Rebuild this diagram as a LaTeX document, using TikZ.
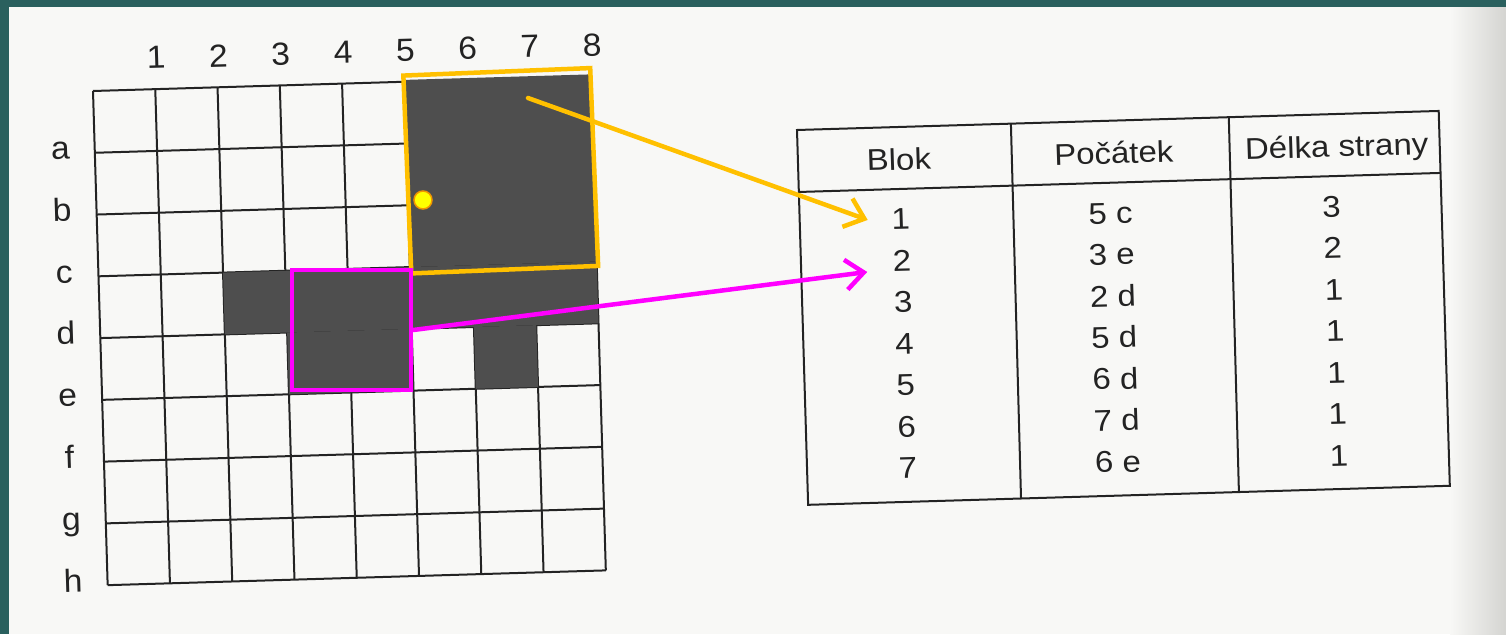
\documentclass[tikz,border=0pt]{standalone}
\usepackage{fontspec}
\setmainfont{Liberation Sans}
\usetikzlibrary{arrows.meta}
\definecolor{teal1}{RGB}{42,96,94}
\definecolor{teal2}{RGB}{66,126,112}
\definecolor{paper}{RGB}{248,248,246}
\definecolor{shade}{RGB}{212,212,209}
\definecolor{ink}{RGB}{35,35,35}
\definecolor{blockgray}{RGB}{78,78,78}
\definecolor{gold}{RGB}{255,192,0}
\definecolor{mag}{RGB}{255,0,255}
\definecolor{dotfill}{RGB}{255,255,0}
\definecolor{dotedge}{RGB}{240,150,0}
\begin{document}
\begin{tikzpicture}[x=1pt,y=-1pt,
  gridline/.style={ink, line width=2pt},
  darkblock/.style={fill=blockgray},
  tableline/.style={ink, line width=2pt},
  lbl/.style={font=\fontsize{32}{36}\selectfont, text=ink, inner sep=0pt, anchor=base, xscale=1.05, rotate=1.7},
  cell/.style={font=\fontsize{30}{34}\selectfont, text=ink, inner sep=0pt, anchor=base, xscale=1.1, rotate=1.7},
  conn/.style={line width=4.5pt, line cap=round, -{Straight Barb[length=18pt,width=30pt]}},
  overlay box/.style={line width=4.5pt, inner sep=0pt, fill=none}]
\useasboundingbox (0,0) rectangle (1506,634);
% page
\fill[paper] (0,0) rectangle (1506,634);
\shade[left color=paper, right color=shade] (1450,0) rectangle (1506,634);
\fill[teal1] (0,0) rectangle (9,634);
\shade[left color=teal1, middle color=teal2, right color=teal1] (0,0) rectangle (1506,7);
% grid
\begin{scope}[shift={(93,91)}, rotate=1.7, x=62.3pt, y=-61.8pt]
  \foreach \i in {0,...,8} {
    \draw[gridline] (\i,0) -- (\i,8);
    \draw[gridline] (0,\i) -- (8,\i);
  }
  \fill[darkblock] (5,-0.03) rectangle (8,3);
  \fill[darkblock] (2,3) rectangle (8,4);
  \fill[darkblock] (3,4) rectangle (5,5);
  \fill[darkblock] (6,4) rectangle (7,5);
  \foreach \k in {1,...,8}
    \node[lbl] (col\k) at (\k+0.03,-0.33) {\k};
  \foreach \r [count=\k] in {a,b,c,d,e,f,g,h}
    \node[lbl] (row\r) at (-0.55,\k+0.09) {\r};
\end{scope}
% table
\begin{scope}[shift={(797,130)}, rotate=1.7]
  \draw[tableline] (0,0) rectangle (642,375);
  \draw[tableline] (0,62) -- (642,62);
  \draw[tableline] (214,0) -- (213,375);
  \draw[tableline] (432,0) -- (431,375);
  \node[cell] (hblok) at (101,43) {Blok};
  \node[cell] (hpoc) at (316,43) {Počátek};
  \node[cell] (hdel) at (539,43) {Délka strany};
  \foreach \b/\p/\d [count=\k from 0] in {1/5 c/3, 2/3 e/2, 3/2 d/1, 4/5 d/1, 5/6 d/1, 6/7 d/1, 7/6 e/1} {
    \node[cell] (b\b) at (101,102.7+41.5*\k) {\b};
    \node[cell] (p\b) at (311,102.7+41.5*\k) {\p};
    \node[cell] (d\b) at (532,102.7+41.5*\k) {\d};
  }
  \coordinate (t1) at (68,92);
  \coordinate (t2) at (66,144);
\end{scope}
% overlays
\node[overlay box, draw=gold, rotate=2.3, minimum width=187pt, minimum height=198pt] (ybox) at (500.75,170.75) {};
\node[circle, fill=dotfill, draw=dotedge, line width=1.5pt, minimum size=18pt, inner sep=0pt] (ydot) at (423,200) {};
\node[overlay box, draw=mag, minimum width=119pt, minimum height=120pt] (mbox) at (351.5,330) {};
\coordinate (ostart) at (528,98);
\draw[conn, gold] (ostart) -- (t1);
\draw[conn, mag] (mbox.east) -- (t2);
\end{tikzpicture}
\end{document}
